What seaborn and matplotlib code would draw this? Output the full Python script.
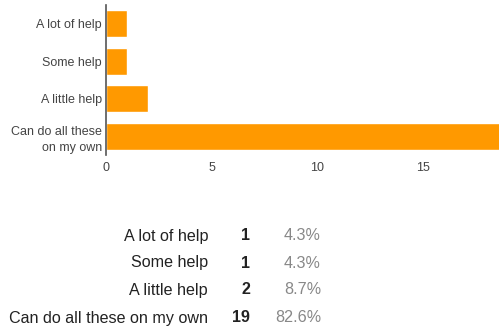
import pandas as pd
import matplotlib.pyplot as plt
import seaborn as sns

# survey answers, top to bottom
answers = ['A lot of help', 'Some help', 'A little help', 'Can do all these on my own']
tick_labels = ['A lot of help', 'Some help', 'A little help', 'Can do all these\non my own']
counts = [1, 1, 2, 19]
percents = ['4.3%', '4.3%', '8.7%', '82.6%']

sns.set_style('white')
plt.rcParams['font.family'] = ['Liberation Sans', 'DejaVu Sans']

df = pd.DataFrame({'answer': tick_labels, 'count': counts})

fig = plt.figure(figsize=(4.99, 3.30), dpi=100)
ax = fig.add_axes([0.2124, 0.530, 0.7876, 0.455])

sns.barplot(data=df, x='count', y='answer', color='#ff9900', saturation=1,
            width=0.72, orient='h', ax=ax)

ax.set_xlim(0, 18.6)
ax.set_ylim(3.5, -0.5)
ax.set_xticks([0, 5, 10, 15])
ax.set_xlabel('')
ax.set_ylabel('')
ax.tick_params(axis='both', length=0, labelsize=9, labelcolor='#444444')
ax.tick_params(axis='y', pad=3)
ax.tick_params(axis='x', pad=5)
for s in ['top', 'right', 'bottom']:
    ax.spines[s].set_visible(False)
ax.spines['left'].set_color('#555555')
ax.spines['left'].set_linewidth(1.2)
for lab in ax.get_yticklabels():
    lab.set_horizontalalignment('right')
    lab.set_multialignment('right')
    lab.set_linespacing(1.45)

# summary table under the chart
row_y = [236, 263, 290, 318]
for name, n, p, y in zip(answers, counts, percents, row_y):
    fy = 1 - y / 330
    fig.text(208 / 499, fy, name, ha='right', va='center', fontsize=11.6, color='#222222')
    fig.text(250 / 499, fy, str(n), ha='right', va='center', fontsize=11.6,
             fontweight='bold', color='#222222')
    fig.text(321 / 499, fy, p, ha='right', va='center', fontsize=11.6, color='#888888')

fig.savefig('out.png', dpi=100)
